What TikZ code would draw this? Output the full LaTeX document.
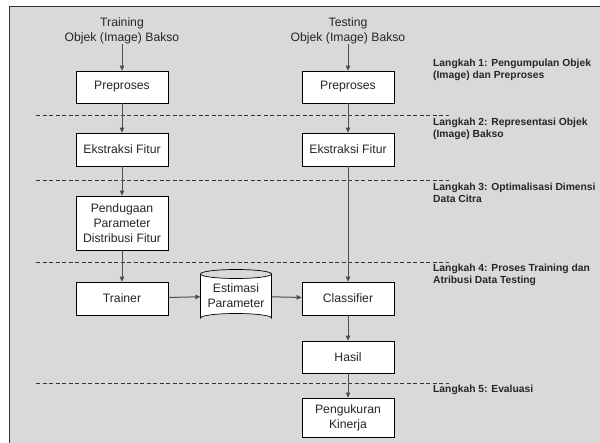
\documentclass[tikz,border=0pt]{standalone}
\usepackage{fontspec}
\setmainfont{Liberation Sans}
\usetikzlibrary{arrows.meta}
\definecolor{bggray}{HTML}{D9D9D9}
\definecolor{linegray}{HTML}{4D4D4D}
\begin{document}
\begin{tikzpicture}[x=1pt,y=-1pt,
  box/.style={draw=black,line width=0.7pt,fill=white,minimum width=92pt,align=center,inner sep=0pt,font=\fontsize{12.2}{15}\selectfont,text=black!85},
  lbl/.style={align=center,font=\fontsize{12.2}{15}\selectfont,text=black!85,inner sep=0pt},
  steplbl/.style={anchor=north west,align=left,font=\fontsize{10.3}{12}\selectfont\bfseries,text=black!85,inner sep=0pt},
  conn/.style={draw=linegray,line width=1pt,-{Triangle[length=5pt,width=4.5pt]}},
  sep/.style={draw=black!80,line width=0.9pt,dash pattern=on 4pt off 2.5pt}]
\useasboundingbox (0,0) rectangle (600,443);
\fill[bggray] (9,7) rectangle (600,443);
\draw[black!80,line width=1pt] (9,443) -- (9,7) -- (600,7);

% dashed separators
\draw[sep] (36,115) -- (449,115);
\draw[sep] (36,180) -- (449,180);
\draw[sep] (36,262) -- (449,262);
\draw[sep] (36,383) -- (449,383);

% column labels
\node[lbl] (trainlbl) at (122,31) {Training\\Objek (Image) Bakso};
\node[lbl] (testlbl) at (348,31) {Testing\\Objek (Image) Bakso};

% training column
\node[box,minimum height=32pt] (pre1) at (122,87) {Preproses};
\node[box,minimum height=33pt] (eks1) at (122,149.5) {Ekstraksi Fitur};
\node[box,minimum height=54pt] (pend) at (122,223) {Pendugaan\\Parameter\\Distribusi Fitur};
\node[box,minimum height=33pt] (trainer) at (122,298.5) {Trainer};

% testing column
\node[box,minimum height=32pt] (pre2) at (348,87) {Preproses};
\node[box,minimum height=33pt] (eks2) at (348,149.5) {Ekstraksi Fitur};
\node[box,minimum height=33pt] (clf) at (348,298.5) {Classifier};
\node[box,minimum height=32pt] (hasil) at (348,357) {Hasil};
\node[box,minimum height=39pt] (ukur) at (348,417.5) {Pengukuran\\Kinerja};

% cylinder
\fill[white] (200.5,274) -- (200.5,318) arc[start angle=180,end angle=360,x radius=35.5,y radius=4.5] -- (271.5,274) arc[start angle=0,end angle=180,x radius=35.5,y radius=4.5] -- cycle;
\draw[black,line width=0.7pt] (200.5,274) arc[start angle=180,end angle=-180,x radius=35.5,y radius=4.5];
\draw[black,line width=0.7pt] (200.5,274) -- (200.5,318) arc[start angle=180,end angle=360,x radius=35.5,y radius=4.5] -- (271.5,274);
\node[lbl,minimum width=71pt,minimum height=44pt] (est) at (236,296) {Estimasi\\Parameter};

% connectors
\draw[conn] (trainlbl.south) -- (pre1.north);
\draw[conn] (testlbl.south) -- (pre2.north);
\draw[conn] (pre1) -- (eks1);
\draw[conn] (eks1) -- (pend);
\draw[conn] (pend) -- (trainer);
\draw[conn] (pre2) -- (eks2);
\draw[conn] (eks2) -- (clf);
\draw[conn] (trainer) -- (est);
\draw[conn] (est) -- (clf);
\draw[conn] (clf) -- (hasil);
\draw[conn] (hasil) -- (ukur);

% step labels
\node[steplbl] (s1) at (433,59) {Langkah 1: Pengumpulan Objek\\(Image) dan Preproses};
\node[steplbl] (s2) at (433,118) {Langkah 2: Representasi Objek\\(Image) Bakso};
\node[steplbl] (s3) at (433,183) {Langkah 3: Optimalisasi Dimensi\\Data Citra};
\node[steplbl] (s4) at (433,264) {Langkah 4: Proses Training dan\\Atribusi Data Testing};
\node[steplbl] (s5) at (433,385) {Langkah 5: Evaluasi};
\end{tikzpicture}
\end{document}
